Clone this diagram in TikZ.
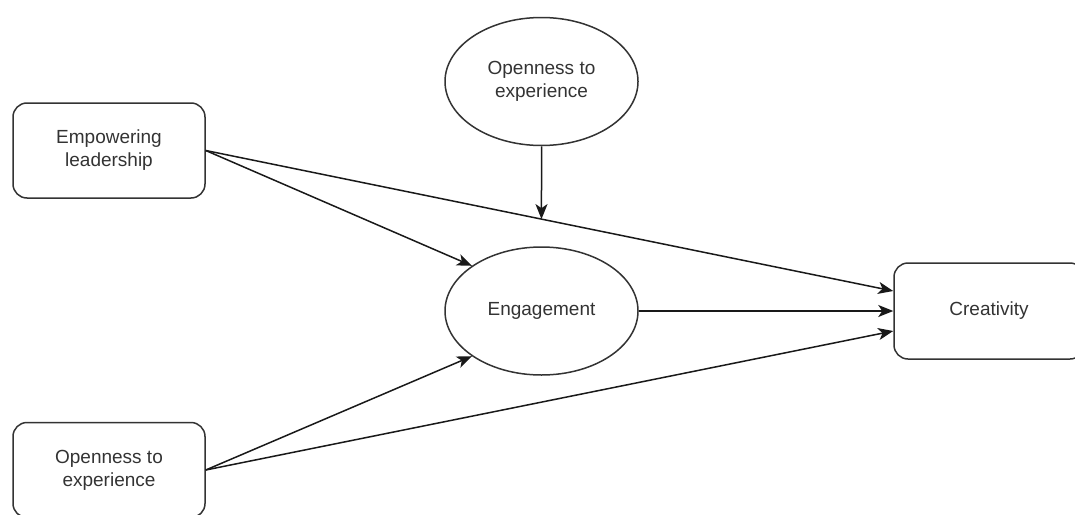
\documentclass[tikz,border=0pt]{standalone}
\usepackage{fontspec}
\setmainfont{Liberation Sans}
\usetikzlibrary{shapes.geometric, arrows.meta, intersections}

\begin{document}
\begin{tikzpicture}[x=1pt, y=-1pt,
		every node/.style={font=\fontsize{19}{23}\selectfont, text=black!80, align=center},
		varbox/.style={draw=black!80, line width=1.5pt, rounded corners=14pt, minimum width=192pt, minimum height=95pt},
		varoval/.style={ellipse, draw=black!80, line width=1.5pt, minimum width=193pt, minimum height=128pt},
		path/.style={draw=black!90, line width=1.5pt, -{Stealth[length=15pt, width=12pt, inset=4pt]}}]
		\useasboundingbox (0,0) rectangle (1075,514);
		\clip (0,0) rectangle (1075,514);
		
		% Variables
		\node[varbox] (emp) at (109,150.5) {Empowering\\leadership};
		\node[varbox] (opb) at (109,470) {Openness to\\experience};
		\node[varoval] (ope) at (541.5,81.5) {Openness to\\experience};
		\node[varoval] (eng) at (541.5,311) {Engagement};
		\node[varbox, minimum width=190pt, minimum height=96pt] (cre) at (989,311) {Creativity};
		
		% Paths
		\draw[path, name path=direct] (emp.east) -- ([yshift=20pt]cre.west);
		\draw[path] (emp.east) -- (eng.147);
		\draw[path] (opb.east) -- (eng.213);
		\draw[path] (opb.east) -- ([yshift=-20pt]cre.west);
		\draw[path] (eng.east) -- (cre.west);
		
		% Moderation
		\path[name path=drop] (ope.south) -- ++(0,150);
		\path[name intersections={of=direct and drop, by=hit}];
		\draw[path] (ope.south) -- (hit);
	\end{tikzpicture}
\end{document}
